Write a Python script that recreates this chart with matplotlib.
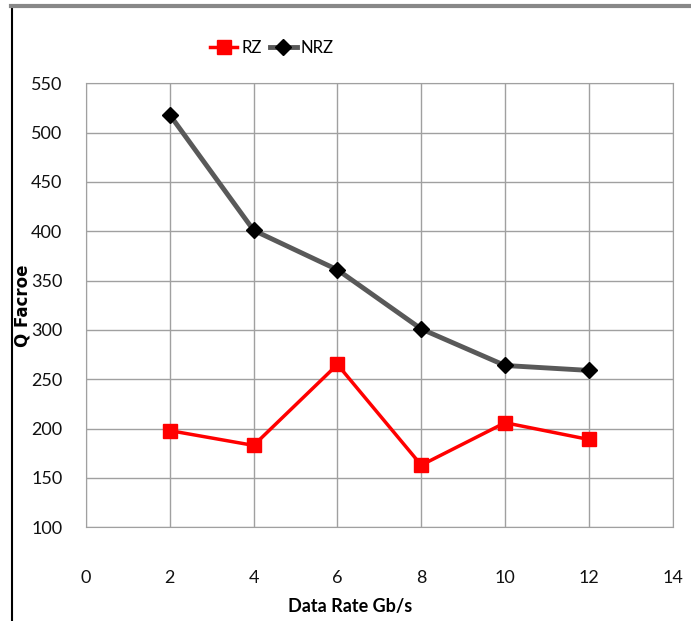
import matplotlib
matplotlib.use("Agg")
import matplotlib.pyplot as plt
from matplotlib.lines import Line2D

# dades llegides del grafic
data_rate = [2, 4, 6, 8, 10, 12]
rz = [198, 183, 265, 163, 206, 189]
nrz = [518, 401, 361, 301, 264, 259]

plt.rcParams['font.family'] = ['Lato', 'DejaVu Sans']

fig = plt.figure(figsize=(6.91, 6.21), dpi=100)
ax = fig.add_axes([86/691, 1 - 527.3/621, (672.7 - 86)/691, (527.3 - 83.3)/621])

ax.plot(data_rate, rz, color='#ff0000', lw=2.5, marker='s', ms=10,
        markerfacecolor='#ff0000', markeredgecolor='#ff0000', label='RZ', zorder=3)
ax.plot(data_rate, nrz, color='#595959', lw=3.5, marker='D', ms=8,
        markerfacecolor='black', markeredgecolor='black', label='NRZ', zorder=3)

ax.set_xlim(0, 14)
ax.set_ylim(100, 550)
ax.set_xticks(range(0, 15, 2))
ax.set_yticks(range(100, 551, 50))
ax.grid(True, color='#a0a0a0', lw=1)
ax.set_axisbelow(True)
for s in ax.spines.values():
    s.set_color('#a0a0a0')
ax.tick_params(length=0, labelsize=13, colors='#111111')
ax.tick_params(axis='x', pad=31)
ax.tick_params(axis='y', pad=17)

ax.set_xlabel("Data Rate Gb/s", fontsize=13, fontweight='bold')
ax.xaxis.set_label_coords((350 - 86)/586.7, -0.16)
ax.set_ylabel("Q Facroe", fontsize=12, fontweight='bold', family='DejaVu Sans')
ax.yaxis.set_label_coords(-0.093, 0.5)

fig.legend(*ax.get_legend_handles_labels(), loc='center', bbox_to_anchor=(272/691, 1 - 48/621),
           ncol=2, frameon=False, fontsize=12, handlelength=1.6, columnspacing=0.5,
           handletextpad=0.25, borderpad=0)

# marc exterior
fig.add_artist(Line2D([12/691, 12/691], [0, 1 - 6/621], color='black', lw=1.5))
fig.add_artist(Line2D([11/691, 1], [1 - 6/621, 1 - 6/621], color='#888888', lw=3))

fig.savefig("out.png", dpi=100)
